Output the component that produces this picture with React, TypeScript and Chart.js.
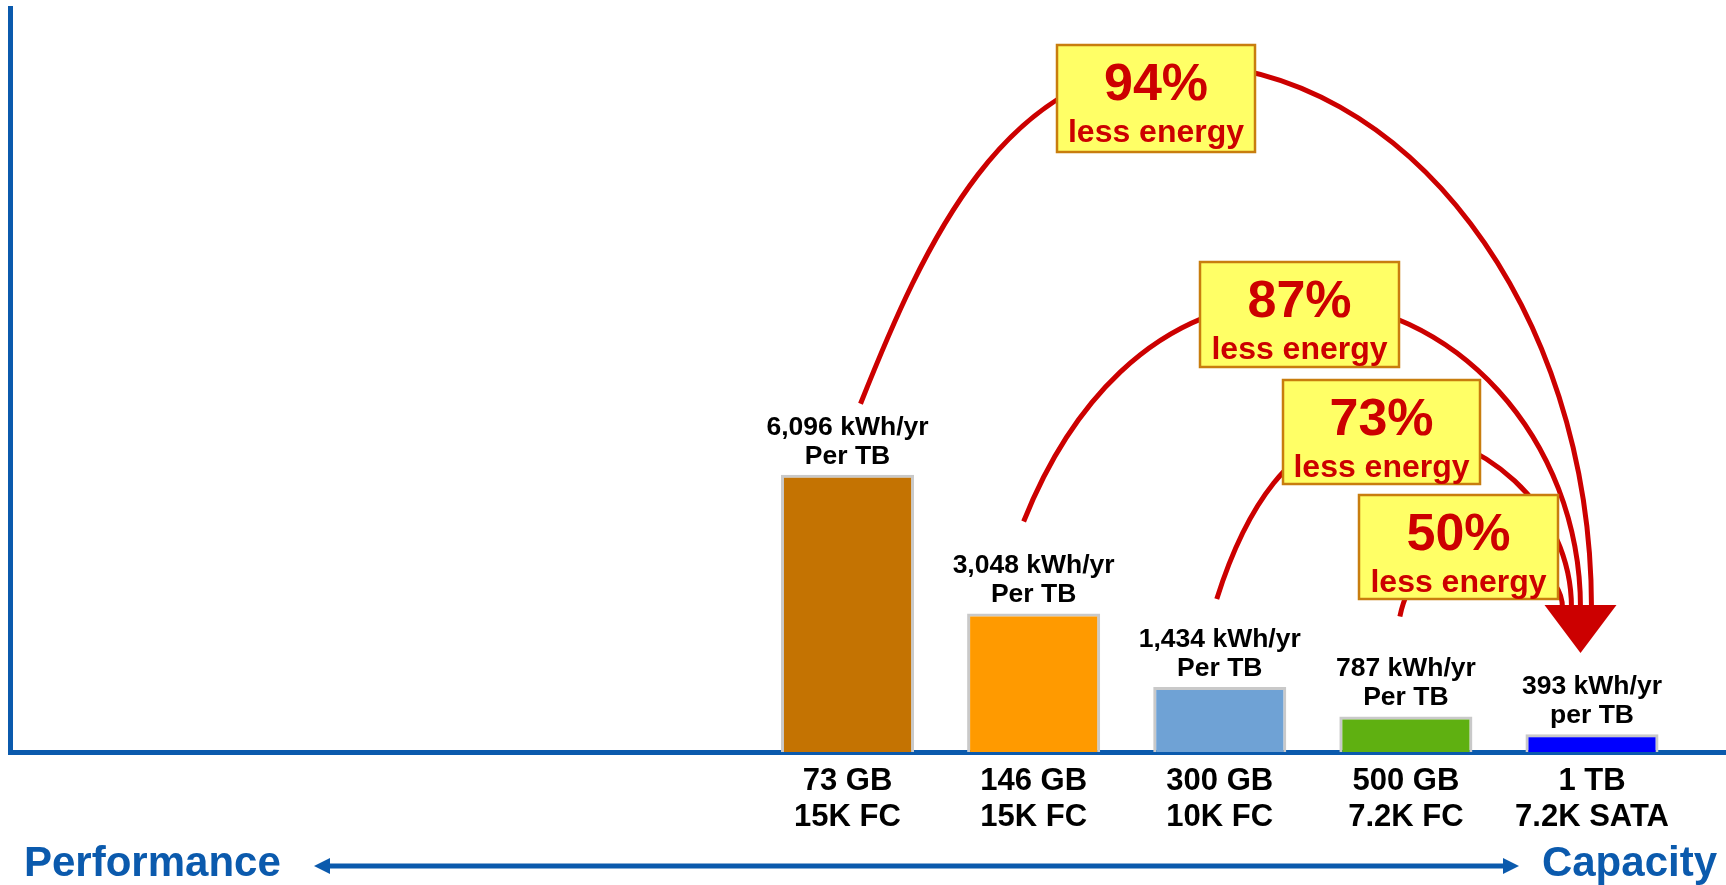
import React, { useEffect, useRef } from 'react';
import { Chart, registerables } from 'chart.js';

Chart.register(...registerables);

// ---- data ----
const driveCapacities = ['73 GB', '146 GB', '300 GB', '500 GB', '1 TB'];
const driveTypes = ['15K FC', '15K FC', '10K FC', '7.2K FC', '7.2K SATA'];
const energyKWhPerTB = [6096, 3048, 1434, 787, 393];
const perTBText = ['Per TB', 'Per TB', 'Per TB', 'Per TB', 'per TB'];
const barColors = ['#c47302', '#ff9a00', '#6fa2d5', '#5fb011', '#0000ff'];
const axisLeftText = 'Performance';
const axisRightText = 'Capacity';
const savingsText = 'less energy';

// ---- styles / layout ----
const FONT = '"Liberation Sans", Arial, Helvetica, sans-serif';
const BLUE = '#0b5aad';
const RED = '#cc0000';

// callout layout for the saving arcs (drive i -> last drive), canvas pixels
const callouts = [
  { box: [1057, 45, 198, 107], peak: [1180, 64], startDx: 13, startGap: 71, dir: [0.37, -0.93], endDx: -0.5 },
  { box: [1200, 262, 199, 105], peak: [1300, 300], startDx: -10, startGap: 92, dir: [0.37, -0.93], endDx: -11.5 },
  { box: [1283, 380, 197, 104], peak: [1378, 428], startDx: -3, startGap: 88, dir: [0.3, -0.95], endDx: -20.5 },
  { box: [1359, 495, 199, 104], peak: [1470, 548], startDx: -6, startGap: 100, dir: [0.2, -0.98], endDx: -29.5 },
];

const energyPlugin = {
  id: 'energyAnnotations',
  afterDatasetsDraw(chart: any) {
    const { ctx } = chart;
    const bars = chart.getDatasetMeta(0).data;
    const last = energyKWhPerTB.length - 1;
    const target = bars[last];
    ctx.save();
    // value labels above bars
    ctx.fillStyle = '#000';
    ctx.textAlign = 'center';
    ctx.textBaseline = 'alphabetic';
    ctx.font = `bold 26.5px ${FONT}`;
    bars.forEach((bar: any, i: number) => {
      ctx.fillText(`${energyKWhPerTB[i].toLocaleString('en-US')} kWh/yr`, bar.x, bar.y - 40);
      ctx.fillText(perTBText[i], bar.x, bar.y - 11);
    });

    const arrowX = target.x - 11.5;
    const arrowBaseY = 605;

    // arcs
    ctx.strokeStyle = RED;
    ctx.lineWidth = 5;
    callouts.forEach((c, i) => {
      const bar = bars[i];
      const sx = bar.x + c.startDx;
      const sy = bar.y - c.startGap;
      const [px, py] = c.peak;
      const ex = target.x + c.endDx;
      const ey = arrowBaseY + 3;
      const a = 0.5 * (sy - py);
      const b = 0.55 * (px - sx);
      ctx.beginPath();
      ctx.moveTo(sx, sy);
      ctx.bezierCurveTo(sx + a * c.dir[0], sy + a * c.dir[1], px - b, py, px, py);
      ctx.bezierCurveTo(px + 0.55 * (ex - px), py, ex, ey - 0.55 * (ey - py), ex, ey);
      ctx.stroke();
    });

    // callout boxes
    callouts.forEach((c, i) => {
      const [bx, by, bw, bh] = c.box;
      ctx.fillStyle = '#ffff66';
      ctx.fillRect(bx, by, bw, bh);
      ctx.strokeStyle = '#c87d0e';
      ctx.lineWidth = 2.5;
      ctx.strokeRect(bx, by, bw, bh);
      const pct = Math.round((1 - energyKWhPerTB[last] / energyKWhPerTB[i]) * 100);
      ctx.fillStyle = RED;
      ctx.textAlign = 'center';
      ctx.font = `bold 52px ${FONT}`;
      ctx.fillText(`${pct}%`, bx + bw / 2, by + 55);
      ctx.font = `bold 32px ${FONT}`;
      ctx.fillText(savingsText, bx + bw / 2, by + 97);
    });

    // arrow head
    ctx.fillStyle = RED;
    ctx.beginPath();
    ctx.moveTo(arrowX - 36, arrowBaseY);
    ctx.lineTo(arrowX + 36, arrowBaseY);
    ctx.lineTo(arrowX, arrowBaseY + 48);
    ctx.closePath();
    ctx.fill();
    ctx.restore();
  },
  afterDraw(chart: any) {
    const { ctx } = chart;
    ctx.save();
    ctx.fillStyle = BLUE;
    ctx.font = `bold 42px ${FONT}`;
    ctx.textBaseline = 'alphabetic';
    ctx.textAlign = 'left';
    ctx.fillText(axisLeftText, 24, 876);
    ctx.textAlign = 'right';
    ctx.fillText(axisRightText, 1717, 876);
    // double-headed arrow
    const y = 866;
    const x1 = 314;
    const x2 = 1519;
    ctx.strokeStyle = BLUE;
    ctx.lineWidth = 5;
    ctx.beginPath();
    ctx.moveTo(x1 + 12, y);
    ctx.lineTo(x2 - 12, y);
    ctx.stroke();
    ctx.beginPath();
    ctx.moveTo(x1, y);
    ctx.lineTo(x1 + 16, y - 8);
    ctx.lineTo(x1 + 16, y + 8);
    ctx.closePath();
    ctx.fill();
    ctx.beginPath();
    ctx.moveTo(x2, y);
    ctx.lineTo(x2 - 16, y - 8);
    ctx.lineTo(x2 - 16, y + 8);
    ctx.closePath();
    ctx.fill();
    ctx.restore();
  },
};

export default function App() {
  const canvasRef = useRef<HTMLCanvasElement | null>(null);

  useEffect(() => {
    const canvas = canvasRef.current;
    if (!canvas) return;
    const chart = new Chart(canvas, {
      type: 'bar',
      data: {
        datasets: [
          {
            data: energyKWhPerTB.map((v, i) => ({ x: i, y: v })),
            backgroundColor: barColors,
            borderColor: '#c9c9c9',
            borderWidth: 3,
            barPercentage: 0.715,
            categoryPercentage: 1,
          },
        ],
      },
      options: {
        animation: false,
        responsive: false,
        maintainAspectRatio: false,
        layout: { padding: { top: 8, left: 10, right: 0, bottom: 38.5 } },
        plugins: {
          legend: { display: false },
          tooltip: { enabled: false },
        },
        scales: {
          x: {
            type: 'linear',
            min: -4.5,
            max: 4.72,
            offset: false,
            z: 1,
            grid: { display: false, drawTicks: false, offset: false },
            border: { display: true, color: BLUE, width: 5 },
            afterBuildTicks: (scale: any) => {
              scale.ticks = driveCapacities.map((_, i) => ({ value: i }));
            },
            ticks: {
              padding: 11.5,
              color: '#000',
              autoSkip: false,
              maxRotation: 0,
              font: { family: FONT, size: 31, weight: 'bold', lineHeight: 1.15 },
              callback: (v: any) => [driveCapacities[v], driveTypes[v]],
            },
          },
          y: {
            min: 0,
            max: 16350,
            grid: { display: false, drawTicks: false },
            ticks: { display: false },
            border: { display: true, color: BLUE, width: 5 },
          },
        },
      },
      plugins: [energyPlugin],
    } as any);
    return () => chart.destroy();
  }, []);

  return (
    <div style={{ position: 'absolute', left: 0, top: 0, width: 1726, height: 885, background: '#fff' }}>
      <canvas ref={canvasRef} width={1726} height={885} style={{ display: 'block' }} />
    </div>
  );
}
